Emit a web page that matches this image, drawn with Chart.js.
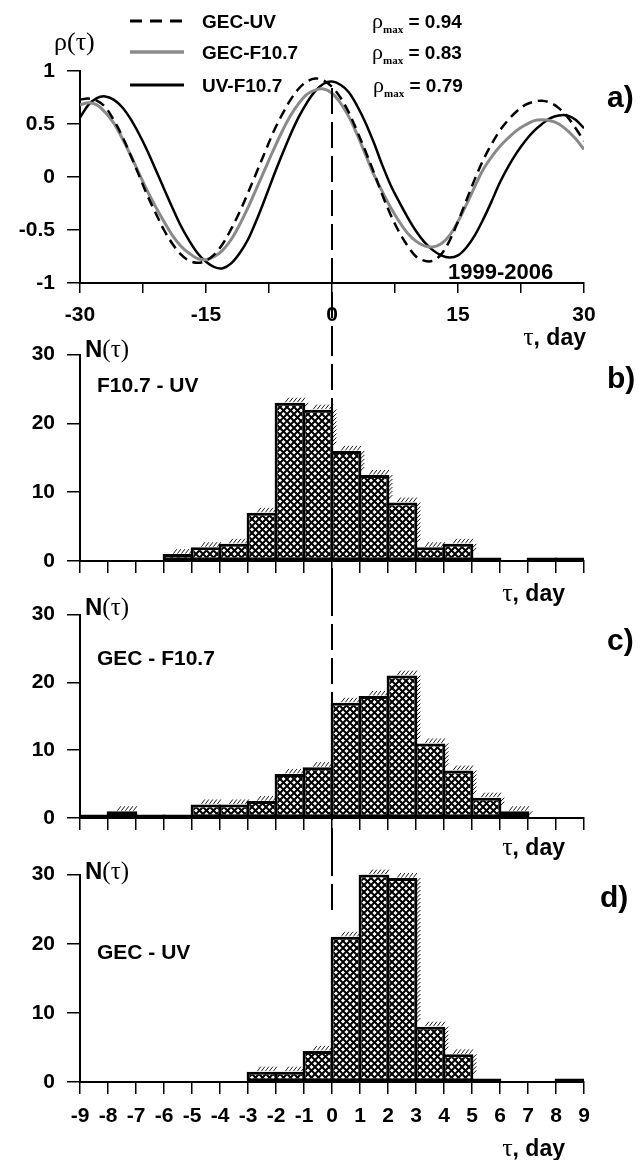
<!DOCTYPE html>
<html>
<head>
<meta charset="utf-8">
<script src="https://cdn.jsdelivr.net/npm/chart.js@4.4.1/dist/chart.umd.min.js"></script>
<style>
body{margin:0;background:#fff;}
#page{position:relative;width:640px;height:1160px;overflow:hidden;font-family:'Liberation Sans',Arial,sans-serif;font-weight:bold;color:#000;}
canvas{position:absolute;left:0;}
.t{position:absolute;white-space:nowrap;line-height:1;transform:translateY(-50%);}
.s{font-family:'Liberation Serif','DejaVu Serif',serif;font-weight:normal;}
.sub{font-family:'Liberation Serif',serif;font-weight:bold;font-size:11px;position:relative;top:5px;}
svg{position:absolute;}
</style>
</head>
<body>
<div id="page">
<canvas id="ca" width="640" height="330" style="top:0"></canvas>
<canvas id="cb" width="640" height="260" style="top:330px"></canvas>
<canvas id="cc" width="640" height="260" style="top:590px"></canvas>
<canvas id="cd" width="640" height="310" style="top:850px"></canvas>

<svg width="60" height="100" style="left:128px;top:0">
  <line x1="2" y1="21" x2="56" y2="21" stroke="#000" stroke-width="3" stroke-dasharray="12,8"/>
  <line x1="2" y1="52" x2="56" y2="52" stroke="#8a8a8a" stroke-width="3.5"/>
  <line x1="2" y1="85" x2="56" y2="85" stroke="#000" stroke-width="3"/>
</svg>
<div class="t" style="left:202px;top:21px;font-size:19px">GEC-UV</div>
<div class="t" style="left:202px;top:52px;font-size:19px">GEC-F10.7</div>
<div class="t" style="left:202px;top:85px;font-size:19px">UV-F10.7</div>
<div class="t" style="left:372px;top:21px;font-size:19px"><span class="s" style="font-size:22px">ρ</span><span class="sub">max</span> = 0.94</div>
<div class="t" style="left:372px;top:52px;font-size:19px"><span class="s" style="font-size:22px">ρ</span><span class="sub">max</span> = 0.83</div>
<div class="t" style="left:373px;top:85px;font-size:19px"><span class="s" style="font-size:22px">ρ</span><span class="sub">max</span> = 0.79</div>
<div class="t s" style="left:54px;top:42px;font-size:26px">ρ(τ)</div>
<div class="t" style="left:607px;top:97px;font-size:30px">a)</div>
<div class="t" style="left:448px;top:272px;font-size:22px">1999-2006</div>
<div class="t" style="right:54px;top:337px;font-size:23px"><span class="s" style="font-size:26px">τ</span>, day</div>

<div class="t" style="left:85px;top:348px;font-size:24px">N<span class="s" style="font-size:25px">(τ)</span></div>
<div class="t" style="left:607px;top:378px;font-size:30px">b)</div>
<div class="t" style="left:97px;top:384px;font-size:21px">F10.7 - UV</div>
<div class="t" style="right:75px;top:593px;font-size:23px"><span class="s" style="font-size:26px">τ</span>, day</div>

<div class="t" style="left:85px;top:606px;font-size:24px">N<span class="s" style="font-size:25px">(τ)</span></div>
<div class="t" style="left:607px;top:640px;font-size:30px">c)</div>
<div class="t" style="left:97px;top:657px;font-size:21px">GEC - F10.7</div>
<div class="t" style="right:75px;top:847px;font-size:23px"><span class="s" style="font-size:26px">τ</span>, day</div>

<div class="t" style="left:85px;top:870px;font-size:24px">N<span class="s" style="font-size:25px">(τ)</span></div>
<div class="t" style="left:600px;top:897px;font-size:30px">d)</div>
<div class="t" style="left:97px;top:951px;font-size:21px">GEC - UV</div>
<div class="t" style="right:75px;top:1148px;font-size:23px"><span class="s" style="font-size:26px">τ</span>, day</div>
</div>
<script>
// lag, days
const lags = [-30,-29,-28,-27,-26,-25,-24,-23,-22,-21,-20,-19,-18,-17,-16,-15,-14,-13,-12,-11,-10,
  -9,-8,-7,-6,-5,-4,-3,-2,-1,0,1,2,3,4,5,6,7,8,9,10,
  11,12,13,14,15,16,17,18,19,20,21,22,23,24,25,26,27,28,29,30]

const gecUv = [0.73,0.74,0.72,0.66,0.54,0.39,0.21,0.02,-0.17,-0.34,-0.50,
  -0.63,-0.73,-0.79,-0.81,-0.79,-0.73,-0.63,-0.49,-0.33,-0.15,
  0.04,0.23,0.42,0.58,0.72,0.83,0.90,0.93,0.91,0.85,
  0.75,0.61,0.43,0.24,0.04,-0.17,-0.36,-0.52,-0.65,-0.75,
  -0.79,-0.79,-0.73,-0.60,-0.42,-0.22,-0.02,0.16,0.31,0.44,
  0.54,0.62,0.68,0.71,0.72,0.70,0.65,0.57,0.46,0.34]

const gecF107 = [0.68,0.70,0.68,0.61,0.51,0.37,0.21,0.04,-0.13,-0.28,-0.42,
  -0.55,-0.65,-0.72,-0.77,-0.78,-0.75,-0.69,-0.59,-0.45,-0.29,
  -0.11,0.07,0.25,0.42,0.57,0.69,0.78,0.82,0.83,0.79,
  0.70,0.57,0.40,0.21,0.02,-0.14,-0.29,-0.42,-0.53,-0.605,
  -0.65,-0.66,-0.63,-0.55,-0.42,-0.26,-0.09,0.07,0.19,0.29,
  0.37,0.44,0.49,0.53,0.54,0.53,0.50,0.44,0.36,0.26]

const uvF107 = [0.56,0.68,0.745,0.76,0.73,0.66,0.55,0.41,0.25,0.07,-0.11,
  -0.29,-0.46,-0.60,-0.72,-0.80,-0.85,-0.86,-0.815,-0.72,-0.59,
  -0.41,-0.21,0.00,0.20,0.39,0.56,0.70,0.81,0.88,0.90,
  0.87,0.80,0.67,0.51,0.32,0.11,-0.08,-0.235,-0.38,-0.51,
  -0.615,-0.69,-0.74,-0.76,-0.74,-0.665,-0.55,-0.40,-0.23,-0.05,
  0.10,0.23,0.34,0.43,0.50,0.555,0.58,0.58,0.54,0.46]

// histogram bins [start, start+1)
const binStart = [-9,-8,-7,-6,-5,-4,-3,-2,-1,0,1,2,3,4,5,6,7,8]
const nF107Uv  = [0,0,0,1,2,2.5,7,23,22,16,12.5,8.5,2,2.5,0.5,0,0.5,0.5]
const nGecF107 = [0.5,1,0.5,0.5,2,2,2.5,6.5,7.5,17,18,21,11,7,3,1,0,0]
const nGecUv   = [0,0,0,0,0,0,1.5,1.5,4.5,21,30,29.5,8,4,0.5,0,0,0.5]

const tickFont = {family:"'Liberation Sans',Arial,sans-serif", weight:'bold', size:21}

function zeroLine(y0, y1){
  return {id:'zeroLine', afterDraw(chart){
    const ctx = chart.ctx
    const x = chart.scales.x.getPixelForValue(0)
    ctx.save()
    ctx.strokeStyle = '#000'
    ctx.lineWidth = 2
    ctx.setLineDash([26,8])
    ctx.beginPath()
    ctx.moveTo(x, y0)
    ctx.lineTo(x, y1)
    ctx.stroke()
    ctx.restore()
  }}
}

// little "////" marks the original printer left on top / right edges of bars
const edgeMarks = {id:'edgeMarks', afterDatasetsDraw(chart){
  const ctx = chart.ctx
  const bars = chart.getDatasetMeta(0).data
  const vals = chart.data.datasets[0].data
  ctx.save()
  ctx.strokeStyle = '#000'
  ctx.lineWidth = 0.9
  ctx.beginPath()
  bars.forEach((el, i) => {
    if (vals[i].y === null || vals[i].y < 1) return
    const left = el.x - el.width/2, right = el.x + el.width/2, top = el.y
    for (let x = left + el.width*0.35; x < right - 2; x += 4) {
      ctx.moveTo(x, top - 0.5); ctx.lineTo(x + 3.5, top - 5)
    }
    const next = bars[i+1]
    const nextTop = next && vals[i+1].y !== null ? next.y : chart.scales.y.getPixelForValue(0)
    for (let y = top + 4; y < nextTop - 2; y += 4) {
      ctx.moveTo(right - 1, y); ctx.lineTo(right + 3, y - 4)
    }
  })
  ctx.stroke()
  ctx.restore()
}}

function yAxis(min, max, step, labelFn){
  return {
    type:'linear', min:min, max:max,
    afterFit: s => { s.width = 80 },
    border:{color:'#000', width:2},
    grid:{drawOnChartArea:false, color:'#000', lineWidth:1.5, tickLength:13},
    ticks:{stepSize:step, color:'#000', font:tickFont, padding:12, callback:labelFn}
  }
}

// panel a - correlation curves
new Chart(document.getElementById('ca'), {
  type:'line',
  data:{datasets:[
    {label:'GEC-UV', data:lags.map((x,i)=>({x:x, y:gecUv[i]})), borderColor:'#000', borderWidth:2.5, borderDash:[10,6]},
    {label:'GEC-F10.7', data:lags.map((x,i)=>({x:x, y:gecF107[i]})), borderColor:'#8a8a8a', borderWidth:3},
    {label:'UV-F10.7', data:lags.map((x,i)=>({x:x, y:uvF107[i]})), borderColor:'#000', borderWidth:2.5}
  ]},
  options:{
    animation:false, responsive:false, events:[],
    layout:{padding:{top:71, right:56, bottom:0, left:0}},
    elements:{point:{radius:0}, line:{tension:0.35, fill:false}},
    plugins:{legend:{display:false}, tooltip:{enabled:false}},
    scales:{
      x:{type:'linear', min:-30, max:30,
        afterFit: s => { s.height = 47 },
        border:{color:'#000', width:2},
        grid:{drawOnChartArea:false, color:'#000', lineWidth:1.5, tickLength:10},
        ticks:{stepSize:7.5, color:'#000', font:tickFont, padding:10, maxRotation:0,
          callback: v => v % 15 === 0 ? String(v) : ''}},
      y:yAxis(-1, 1, 0.25, v => Math.abs(v % 0.5) < 1e-9 ? String(v) : '')
    }
  },
  plugins:[zeroLine(88, 330)]
})

function histogram(id, counts, axisHeight, padTop, showLabels, lineTo){
  const ctx = document.getElementById(id).getContext('2d')
  const tile = document.createElement('canvas')
  tile.width = 7; tile.height = 7
  const g = tile.getContext('2d')
  g.fillStyle = '#fff'; g.fillRect(0,0,7,7)
  g.strokeStyle = '#000'; g.lineWidth = 2
  g.beginPath(); g.moveTo(-1,-1); g.lineTo(8,8); g.moveTo(-1,8); g.lineTo(8,-1); g.stroke()
  const pattern = ctx.createPattern(tile, 'repeat')
  new Chart(ctx, {
    type:'bar',
    data:{datasets:[{
      data: binStart.map((b,i)=>({x:b+0.5, y: counts[i] > 0 ? counts[i] : null})),
      backgroundColor: pattern, borderColor:'#000', borderWidth:3, borderSkipped:false,
      barPercentage:1.1, categoryPercentage:1
    }]},
    options:{
      animation:false, responsive:false, events:[],
      layout:{padding:{top:padTop, right:56, bottom:0, left:0}},
      plugins:{legend:{display:false}, tooltip:{enabled:false}},
      scales:{
        x:{type:'linear', min:-9, max:9, offset:false,
          afterFit: s => { s.height = axisHeight },
          border:{color:'#000', width:2},
          grid:{drawOnChartArea:false, offset:false, color:'#000', lineWidth:1.5, tickLength:12},
          ticks:{stepSize:1, color:'#000', font:tickFont, padding:10, maxRotation:0, autoSkip:false,
            callback: v => showLabels ? String(v) : ''}},
        y:yAxis(0, 30, 10, v => String(v))
      }
    },
    plugins:[edgeMarks, zeroLine(0, lineTo)]
  })
}

histogram('cb', nF107Uv, 29, 18, false, 260)
histogram('cc', nGecF107, 32, 16, false, 260)
histogram('cd', nGecUv, 78, 20, true, 60)
</script>
</body>
</html>
